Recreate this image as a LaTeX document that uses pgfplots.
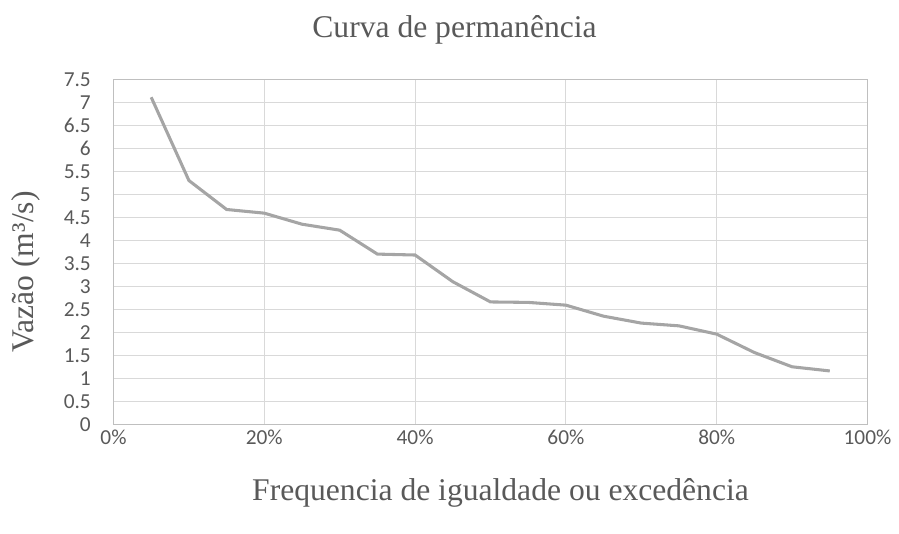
\documentclass[border=0pt]{standalone}
\usepackage{fontspec}
\setmainfont{Liberation Serif}
\newfontfamily\tickfont{Carlito}
\usepackage{pgfplots}
\pgfplotsset{compat=1.18}
\definecolor{txt}{HTML}{595959}
\definecolor{gridc}{HTML}{D9D9D9}
\definecolor{axc}{HTML}{BFBFBF}
\definecolor{ln}{HTML}{A5A5A5}
\begin{document}
\begin{tikzpicture}[x=0.75pt,y=0.75pt]
\path[use as bounding box] (-113.5,-109.7) rectangle (785.5,424.3);
\begin{axis}[at={(0,0)}, anchor=south west, scale only axis,
  width=565.5pt, height=258.75pt,
  xmin=0, xmax=100, ymin=0, ymax=7.5,
  xtick={0,20,40,60,80,100},
  ytick={0,0.5,1,1.5,2,2.5,3,3.5,4,4.5,5,5.5,6,6.5,7,7.5},
  grid=major, major grid style={draw=gridc, line width=0.75pt},
  axis line style={draw=axc, line width=1pt},
  tick style={draw=none},
  /pgf/number format/assume math mode=true,
  xticklabel={\pgfmathprintnumber{\tick}\%},
  xticklabel style={font=\tickfont\fontsize{16}{16}\selectfont, text=txt, yshift=-1pt},
  yticklabel style={font=\tickfont\fontsize{16}{16}\selectfont, text=txt, xshift=-13.5pt},
]
\addplot[ln, line width=2.3pt, mark=none] coordinates {
(5,7.11) (10,5.30) (15,4.67) (20,4.59) (25,4.35) (30,4.22) (35,3.70) (40,3.68)
(45,3.10) (50,2.66) (55,2.65) (60,2.59) (65,2.35) (70,2.20) (75,2.14) (80,1.96)
(85,1.56) (90,1.25) (95,1.16)
};
\end{axis}
\node[font=\fontsize{23.7}{24}\selectfont, text=txt] at (341,394.3) {Curva de permanência};
\node[font=\fontsize{23.7}{24}\selectfont, text=txt] at (387,-68.7) {Frequencia de igualdade ou excedência};
\node[font=\fontsize{23.7}{24}\selectfont, text=txt, rotate=90] at (-87.5,152.3) {Vazão (m³/s)};
\end{tikzpicture}
\end{document}
